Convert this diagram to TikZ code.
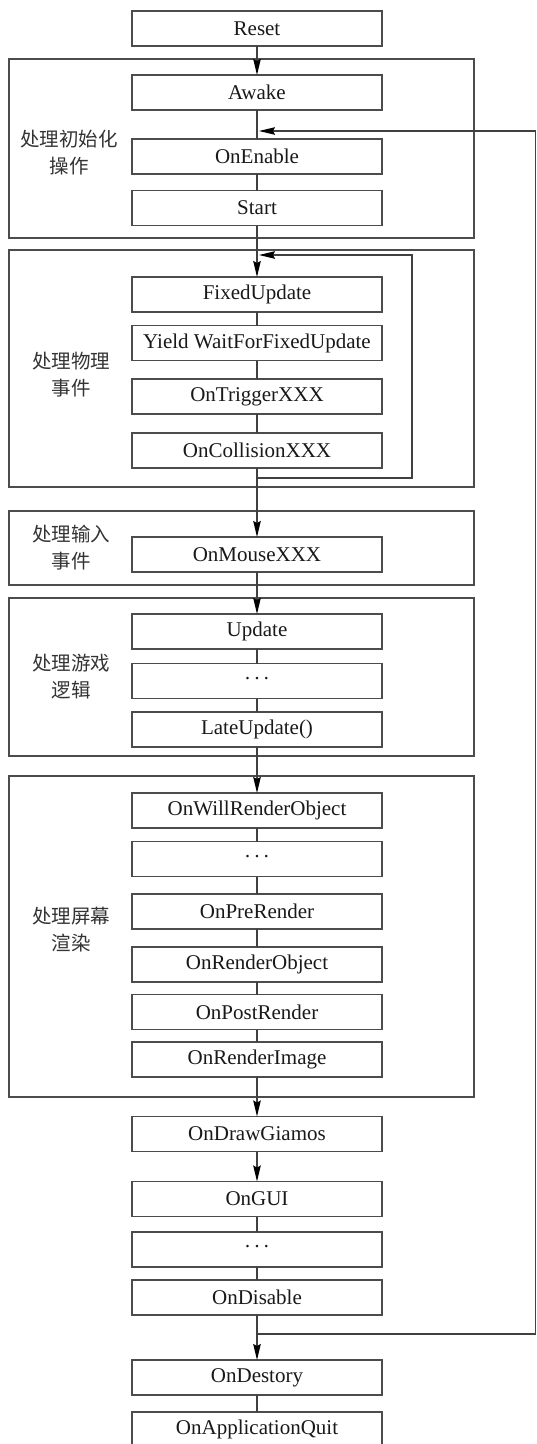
\documentclass[tikz,border=0pt]{standalone}
\usepackage{fontspec}
\setmainfont{Liberation Serif}
\newfontfamily\cjk{Noto Sans CJK SC}
\usetikzlibrary{arrows.meta}
\newcommand{\middots}{·\kern2.5pt·\kern2.5pt·}
\begin{document}
\begin{tikzpicture}[x=1pt,y=-1pt,
  line/.style={draw=black!75, line width=1.3pt},
  arr/.style={line, -{Stealth[length=16pt,width=7.5pt,inset=2pt,black]}},
  stepbox/.style={draw=black!70, line width=1.3pt, fill=white,
    minimum width=250pt, minimum height=35pt, inner sep=0pt, outer sep=0pt,
    font=\fontsize{21}{24}\selectfont, text=black!90},
  groupbox/.style={draw=black!70, line width=1.3pt, minimum width=465pt,
    inner sep=0pt, outer sep=0pt},
  grouplabel/.style={font=\cjk\fontsize{19.5}{27}\selectfont, align=center, text=black!80}]

\useasboundingbox (0,0) rectangle (536,1444);
\clip (0,0) rectangle (536,1444);

% stage frames
\node[groupbox, minimum height=179pt] (g1) at (241.5,148.5) {};
\node[groupbox, minimum height=237pt] (g2) at (241.5,368.5) {};
\node[groupbox, minimum height=74pt]  (g3) at (241.5,548) {};
\node[groupbox, minimum height=158pt] (g4) at (241.5,677) {};
\node[groupbox, minimum height=321pt] (g5) at (241.5,936.5) {};

% stage captions
\node[grouplabel] (l1) at (69,153) {处理初始化\\操作};
\node[grouplabel] (l2) at (71,375) {处理物理\\事件};
\node[grouplabel] (l3) at (71,547.5) {处理输入\\事件};
\node[grouplabel] (l4) at (71,677) {处理游戏\\逻辑};
\node[grouplabel] (l5) at (71,930) {处理屏幕\\渲染};

% event functions
\node[stepbox] (reset)    at (257,28.5)   {Reset};
\node[stepbox] (awake)    at (257,92.5)   {Awake};
\node[stepbox] (enable)   at (257,156.5)  {OnEnable};
\node[stepbox] (start)    at (257,208)    {Start};
\node[stepbox] (fixed)    at (257,294.5)  {FixedUpdate};
\node[stepbox] (yield)    at (257,343)    {Yield WaitForFixedUpdate};
\node[stepbox] (trigger)  at (257,396.5)  {OnTriggerXXX};
\node[stepbox] (collide)  at (257,450.5)  {OnCollisionXXX};
\node[stepbox] (mouse)    at (257,554.5)  {OnMouseXXX};
\node[stepbox] (update)   at (257,631.5)  {Update};
\node[stepbox] (dotsa)    at (257,681)    {\middots};
\node[stepbox] (late)     at (257,729.5)  {LateUpdate()};
\node[stepbox] (willr)    at (257,810.5)  {OnWillRenderObject};
\node[stepbox] (dotsb)    at (257,859)    {\middots};
\node[stepbox] (prer)     at (257,911.5)  {OnPreRender};
\node[stepbox] (robj)     at (257,964.5)  {OnRenderObject};
\node[stepbox] (postr)    at (257,1012)   {OnPostRender};
\node[stepbox] (rimg)     at (257,1059.5) {OnRenderImage};
\node[stepbox] (gizmo)    at (257,1134)   {OnDrawGiamos};
\node[stepbox] (gui)      at (257,1199)   {OnGUI};
\node[stepbox] (dotsc)    at (257,1249.5) {\middots};
\node[stepbox] (disable)  at (257,1297.5) {OnDisable};
\node[stepbox] (destroy)  at (257,1377.5) {OnDestory};
\node[stepbox] (quit)     at (257,1429.5) {OnApplicationQuit};

% main flow
\draw[arr]  (reset) -- (awake);
\draw[line] (awake) -- (enable);
\draw[line] (enable) -- (start);
\draw[arr]  (start) -- (fixed);
\draw[line] (fixed) -- (yield);
\draw[line] (yield) -- (trigger);
\draw[line] (trigger) -- (collide);
\draw[arr]  (collide) -- (mouse);
\draw[arr]  (mouse) -- (update);
\draw[line] (update) -- (dotsa);
\draw[line] (dotsa) -- (late);
\draw[arr]  (late) -- (willr);
\draw[line] (willr) -- (dotsb);
\draw[line] (dotsb) -- (prer);
\draw[line] (prer) -- (robj);
\draw[line] (robj) -- (postr);
\draw[line] (postr) -- (rimg);
\draw[arr]  (rimg) -- (gizmo);
\draw[arr]  (gizmo) -- (gui);
\draw[line] (gui) -- (dotsc);
\draw[line] (dotsc) -- (disable);
\draw[arr]  (disable) -- (destroy);
\draw[line] (destroy) -- (quit);

% physics loop
\coordinate (loopout) at (257,478);
\coordinate (loopbr)  at (412,478);
\coordinate (looptr)  at (412,255);
\coordinate (loopin)  at (259,255);
\draw[arr] (loopout) -- (loopbr) -- (looptr) -- (loopin);

% re-enable path, running along the right edge
\coordinate (fbout) at (257,1334);
\coordinate (fbbr)  at (535.6,1334);
\coordinate (fbtr)  at (535.6,131);
\coordinate (fbin)  at (259,131);
\draw[arr] (fbout) -- (fbbr) -- (fbtr) -- (fbin);
\end{tikzpicture}
\end{document}
